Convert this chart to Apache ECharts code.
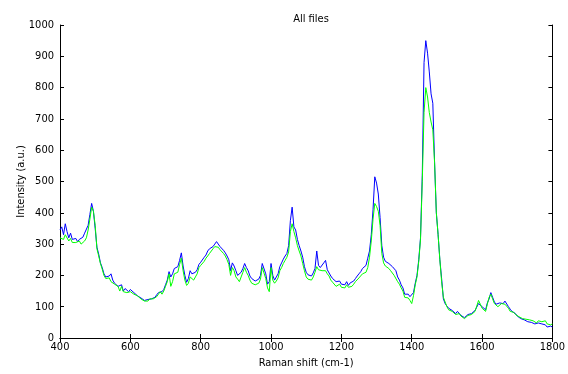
<!DOCTYPE html>
<html>
<head>
<meta charset="utf-8">
<script src="https://cdn.jsdelivr.net/npm/echarts@6/dist/echarts.min.js"></script>
<style>
html,body{margin:0;padding:0;background:#fff;}
#c{width:568px;height:374px;}
</style>
</head>
<body>
<div id="c"></div>
<script>
const titleText = 'All files';
const xLabel = 'Raman shift (cm-1)';
const yLabel = 'Intensity (a.u.)';
const xStart = 400, xStep = 5;
const blue = [
345,355,330,365,340,320,335,315,312,318,308,315,310,322,335,330,360,395,430,405,
350,290,268,240,225,205,195,190,198,205,185,175,178,165,160,170,150,158,155,148,
155,150,145,148,135,140,128,125,120,115,123,120,125,122,130,138,145,150,148,155,
170,185,212,195,205,222,218,228,248,272,230,200,178,190,215,205,200,210,218,235,
242,245,258,265,278,285,282,292,300,308,305,292,288,280,272,262,250,215,240,230,
215,200,195,210,222,238,225,215,198,190,185,182,178,188,200,238,235,205,172,180,
238,200,185,195,205,228,240,252,262,270,295,375,418,355,345,315,295,278,258,228,
210,202,205,198,208,222,278,232,225,230,240,248,218,212,198,190,184,180,175,182,
172,178,170,180,168,176,172,182,190,198,205,212,222,225,232,255,278,330,410,515,
495,460,385,295,258,245,240,238,232,228,222,215,195,185,170,160,140,135,140,132,
138,145,175,200,250,320,520,880,950,910,850,780,750,560,400,330,250,190,125,110,
102,95,92,88,82,78,85,80,72,76,65,70,75,72,78,80,88,92,110,105,
100,95,90,112,125,145,130,115,108,105,112,115,110,118,120,100,92,85,80,78,
70,68,62,60,58,55,52,55,50,48,45,50,48,52,45,40,42,35,30,38,
35];
const green = [
320,325,315,330,335,310,318,305,308,305,300,310,300,305,310,320,345,380,418,405,
360,285,262,238,220,200,190,185,192,180,178,172,170,165,150,165,148,152,145,150,
148,142,140,138,135,132,125,120,118,120,118,125,120,125,128,132,140,148,140,150,
165,180,205,165,180,205,200,210,235,255,215,185,168,175,195,190,185,195,205,225,
232,235,245,255,262,270,272,285,292,298,290,282,278,270,262,250,235,200,225,215,
195,188,180,195,210,225,210,200,185,175,172,170,168,175,188,225,220,190,160,148,
225,185,175,182,192,215,225,238,248,258,275,340,365,340,320,295,278,262,238,215,
195,188,192,185,195,210,228,218,212,215,220,215,205,198,185,178,172,165,168,172,
162,168,160,170,162,168,165,172,180,185,192,198,205,208,210,225,258,310,380,430,
420,405,360,270,240,230,225,222,215,210,200,195,180,172,160,150,130,125,128,120,
110,135,170,195,245,315,500,720,800,770,720,690,665,560,400,330,250,180,130,115,
100,90,95,85,88,75,80,78,70,72,62,68,72,70,75,78,85,90,120,108,
95,100,85,108,130,140,125,110,112,100,105,110,115,108,105,95,85,90,82,75,
72,68,65,62,58,60,55,58,52,55,50,48,55,50,52,48,55,45,50,42,
45];
const xTicksMin = 400, xTicksMax = 1800, xTickInt = 200;
const yTicksMin = 0, yTicksMax = 1000, yTickInt = 100;

function pairs(arr){ return arr.map((v,i)=>[xStart + i*xStep, v]); }

const font = "'Liberation Sans Narrow','DejaVu Sans Condensed',Arial,sans-serif";
const chart = echarts.init(document.getElementById('c'), null, {renderer:'canvas'});
const axisLine = {show:true, lineStyle:{color:'#000', width:1}};
const tick = {show:true, inside:true, length:4, lineStyle:{color:'#000'}};
const fmt = v => String(v);
chart.setOption({
  animation:false,
  backgroundColor:'#fff',
  title:{text:titleText, left:306, textAlign:'center', top:9,
    textStyle:{fontFamily:font, fontSize:11, fontWeight:'normal', color:'#000'}},
  grid:{left:60, right:15, top:25, bottom:36},
  xAxis:[
    {type:'value', min:xTicksMin, max:xTicksMax, interval:xTickInt, position:'bottom',
     axisLine:axisLine, axisTick:tick, splitLine:{show:false},
     axisLabel:{fontFamily:font, fontSize:11, color:'#000', margin:4, formatter:fmt},
     name:xLabel, nameLocation:'middle', nameGap:20,
     nameTextStyle:{fontFamily:font, fontSize:11, color:'#000'}},
    {type:'value', min:xTicksMin, max:xTicksMax, interval:xTickInt, position:'top',
     axisLine:axisLine, axisTick:tick, axisLabel:{show:false}, splitLine:{show:false}}
  ],
  yAxis:[
    {type:'value', min:yTicksMin, max:yTicksMax, interval:yTickInt, position:'left',
     axisLine:axisLine, axisTick:tick, splitLine:{show:false},
     axisLabel:{fontFamily:font, fontSize:11, color:'#000', margin:6, formatter:fmt},
     name:yLabel, nameLocation:'middle', nameGap:33, nameMoveOverlap:false,
     nameTextStyle:{fontFamily:font, fontSize:11, color:'#000'}},
    {type:'value', min:yTicksMin, max:yTicksMax, interval:yTickInt, position:'right',
     axisLine:axisLine, axisTick:tick, axisLabel:{show:false}, splitLine:{show:false}}
  ],
  series:[
    {type:'line', data:pairs(blue), showSymbol:false, symbol:'none',
     lineStyle:{color:'#0000ff', width:1}, itemStyle:{color:'#0000ff'}, z:2},
    {type:'line', data:pairs(green), showSymbol:false, symbol:'none',
     lineStyle:{color:'#00ff00', width:1}, itemStyle:{color:'#00ff00'}, z:3}
  ]
});
</script>
</body>
</html>
